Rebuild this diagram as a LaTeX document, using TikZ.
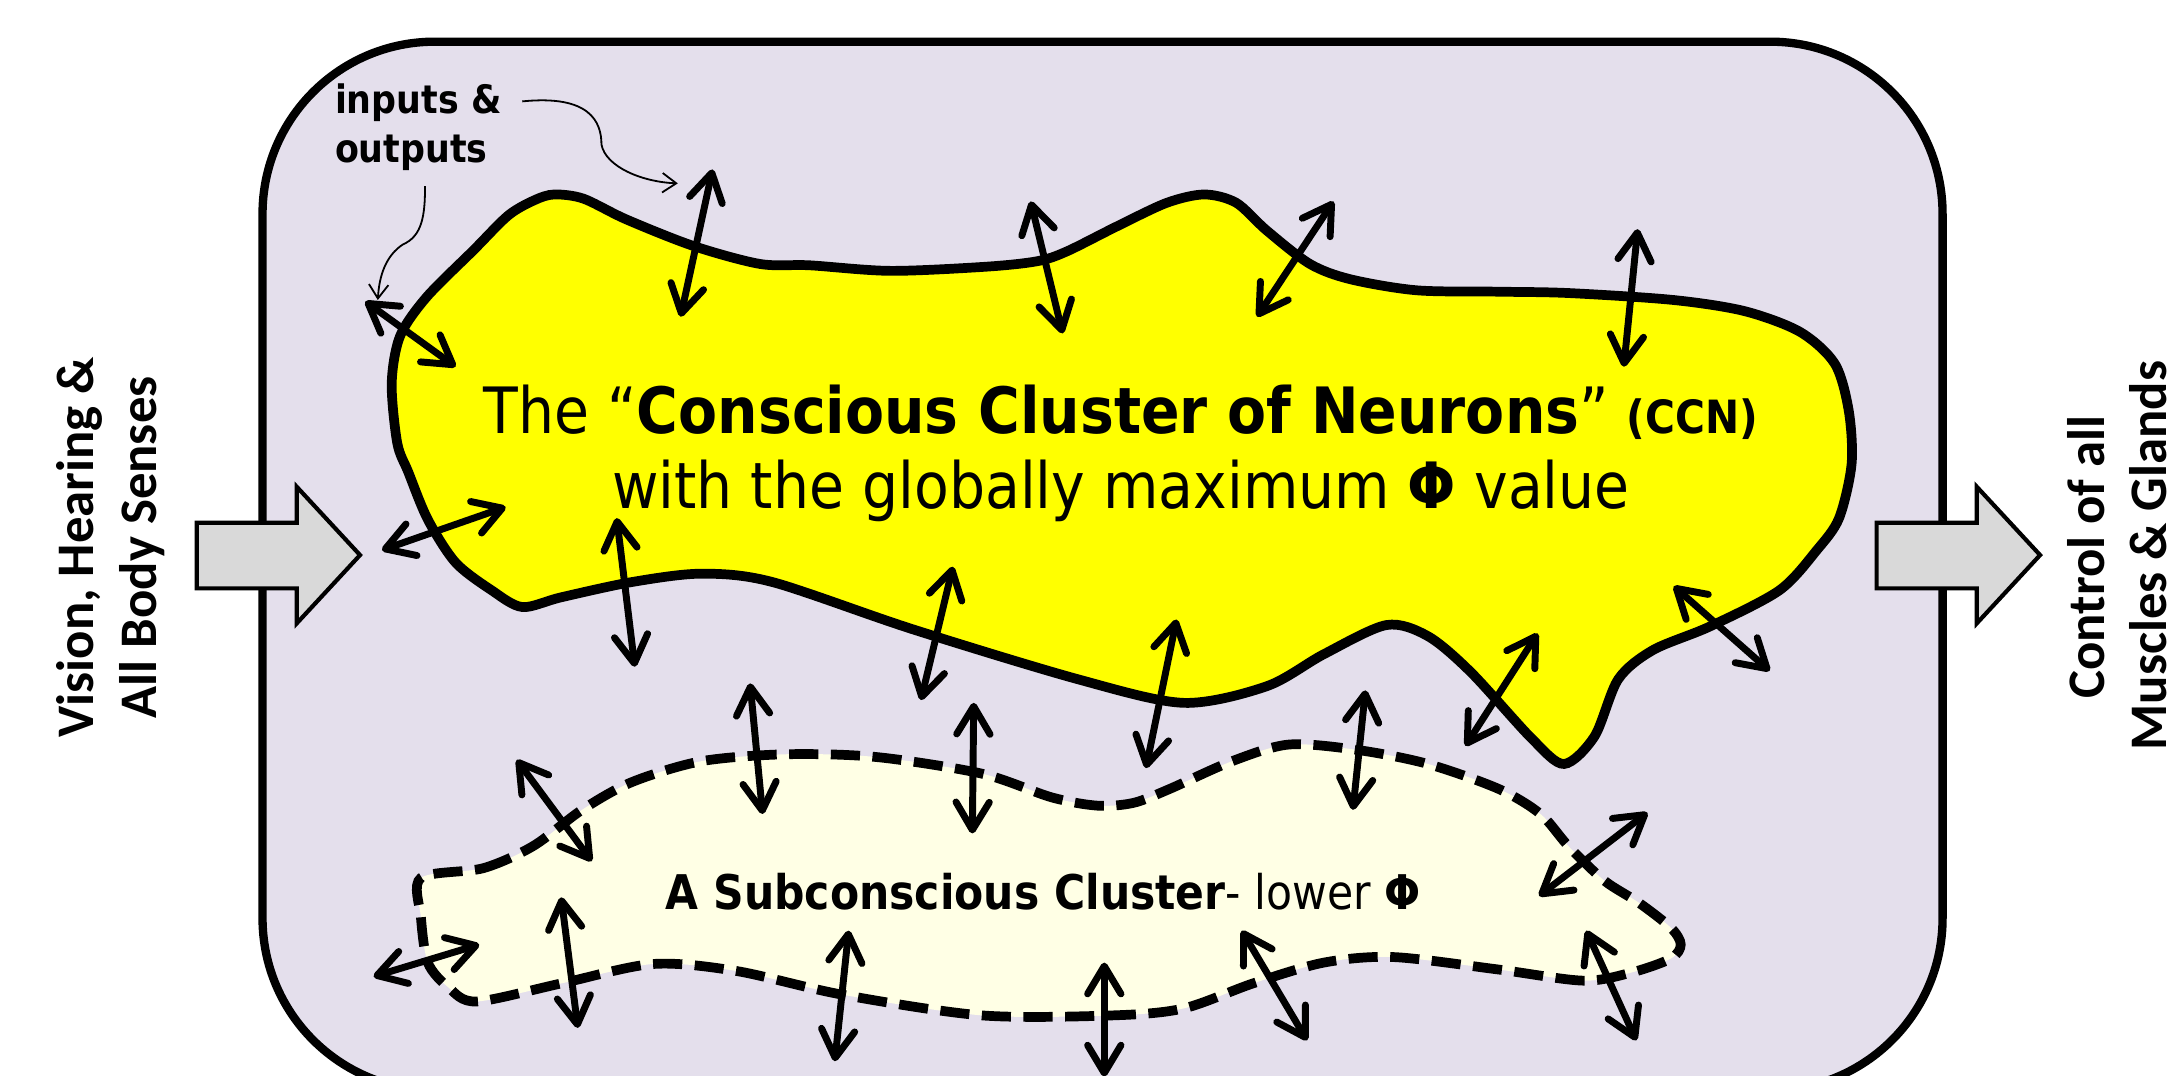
\documentclass[tikz,border=0pt]{standalone}
\usepackage{fontspec}
\setmainfont{DejaVu Sans}[FakeStretch=0.89]
\newfontfamily\calib{Carlito}
\usetikzlibrary{arrows.meta}
\definecolor{boxfill}{RGB}{228,223,236}
\definecolor{ccnyellow}{RGB}{255,255,0}
\definecolor{subfill}{RGB}{255,255,229}
\definecolor{arrowgray}{RGB}{217,217,217}
\begin{document}
\begin{tikzpicture}[x=1pt,y=-1pt,
  dbl/.style={line width=5pt, line cap=round, {Straight Barb[length=20pt,width=24pt,round]}-{Straight Barb[length=20pt,width=24pt,round]}},
  pointer/.style={line width=1.3pt, -{Straight Barb[length=10pt,width=14pt]}},
  blockarrow/.style={fill=arrowgray, draw=black, line width=3pt, line join=miter},
  sidelabel/.style={rotate=90, anchor=base, inner sep=0pt, font=\calib\fontsize{38}{46}\selectfont\bfseries},
]
\useasboundingbox (0,0) rectangle (1568,774);
\fill[white] (0,0) rectangle (1568,774);

% outer box
\draw[fill=boxfill, line width=6pt, rounded corners=124pt] (189,30) rectangle (1398.5,785);

% block arrows
\draw[blockarrow] (141.6,376.3) -- (213.6,376.3) -- (213.6,350.4) -- (259.2,399.6) -- (213.6,448.8) -- (213.6,423.6) -- (141.6,423.6) -- cycle;
\draw[blockarrow] (1351,376.3) -- (1423.1,376.3) -- (1423.1,350.4) -- (1468.7,399.6) -- (1423.1,448.8) -- (1423.1,423.6) -- (1351,423.6) -- cycle;

% side labels
\node[sidelabel] (in1) at (67,394) {Vision, Hearing \&};
\node[sidelabel] (in2) at (113,394) {All Body Senses};
\node[sidelabel] (out1) at (1515,401) {Control of all};
\node[sidelabel] (out2) at (1560,400) {Muscles \& Glands};

% conscious cluster
\draw[fill=ccnyellow, line width=7pt] plot[smooth cycle, tension=0.5] coordinates {
 (282,276) (288,242) (307,214) (341,180) (366,155) (385,144) (399,140) (420,143) (451,158)
 (499,177) (547,190) (583,191) (641,195) (710,192) (747,188) (768,181) (804,163) (840,146)
 (867,140) (890,146) (912,166) (943,190) (972,201) (1020,209) (1080,210) (1130,211)
 (1205,216) (1256,224) (1296,239) (1321,262) (1331,296) (1333,334)
 (1324,373) (1308,396) (1281,425) (1231,451) (1190,468) (1165,489) (1148,530) (1126,550)
 (1103,532) (1059,484) (1028,458) (998,450) (953,471) (912,494) (852,506) (776,489)
 (657,453) (556,419) (505,413) (455,419) (404,430) (376,437) (354,425) (328,405) (308,374)
 (294,340) (286,319)};

% subconscious cluster
\draw[fill=subfill, line width=7pt, dash pattern=on 21pt off 9pt] plot[smooth cycle, tension=0.5] coordinates {
 (303,632) (348,625) (384,609) (419,583) (455,563) (505,548) (566,543) (631,545) (707,557)
 (757,574) (790,580) (816,578) (842,568) (887,548) (928,536) (978,540) (1028,550) (1079,568)
 (1109,586) (1129,609) (1155,634) (1180,650) (1203,668) (1210,680) (1203,690) (1175,700)
 (1140,706) (1079,698) (1003,689) (953,693) (902,708) (852,726) (801,731) (707,731)
 (606,716) (530,699) (470,694) (404,708) (343,721) (323,711) (308,693) (303,660)};

% texts
\node[anchor=base, inner sep=0pt, font=\fontsize{46}{54}\selectfont] (ccn1) at (807,312)
  {The “\textbf{Conscious Cluster of Neurons}” {\fontsize{33}{40}\selectfont\bfseries(CCN)}};
\node[anchor=base, inner sep=0pt, font=\fontsize{46}{54}\selectfont] (ccn2) at (807,366)
  {with the globally maximum \textbf{Φ} value};
\node[anchor=base, inner sep=0pt, font=\fontsize{34.4}{40}\selectfont] (sub) at (751,655)
  {\textbf{A Subconscious Cluster}- lower \textbf{Φ}};
\node[anchor=base west, inner sep=0pt, font=\fontsize{28.2}{34}\selectfont\bfseries] (io1) at (241,82) {inputs \&};
\node[anchor=base west, inner sep=0pt, font=\fontsize{28.2}{34}\selectfont\bfseries] (io2) at (241,117) {outputs};

% pointers from the label
\coordinate (p1s) at (376,73); \coordinate (p1m) at (433,104); \coordinate (p1e) at (488,132);
\draw[pointer] (p1s) .. controls (425,68) and (433,88) .. (p1m) .. controls (436,120) and (462,131) .. (p1e);
\coordinate (p2s) at (306,134); \coordinate (p2m) at (290,176); \coordinate (p2e) at (272,216);
\draw[pointer] (p2s) .. controls (306,155) and (304,170) .. (p2m) .. controls (278,184) and (273,198) .. (p2e);

% double-headed arrows
\foreach \i/\ax/\ay/\bx/\by in {
  1/263/217/328/264, 2/513/122/490/228, 3/742/145/765/240, 4/960/145/905/228,
  5/1179/165/1169/264, 6/275/396/364/365, 7/444/373/457/480, 8/686/408/663/504,
  9/847/446/825/553, 10/1107/456/1055/537, 11/1205/422/1274/483, 12/540/492/549/586,
  13/701/506/700/600, 14/983/497/974/583, 15/372/547/426/620, 16/1186/585/1108/645,
  17/269/703/345/680, 18/404/646/416/740, 19/611/670/601/764, 20/795/693/795/775,
  21/894/670/941/749, 22/1142/670/1178/749} {
  \coordinate (a\i s) at (\ax,\ay);
  \coordinate (a\i e) at (\bx,\by);
  \draw[dbl] (a\i s) -- (a\i e);
}
\end{tikzpicture}
\end{document}
